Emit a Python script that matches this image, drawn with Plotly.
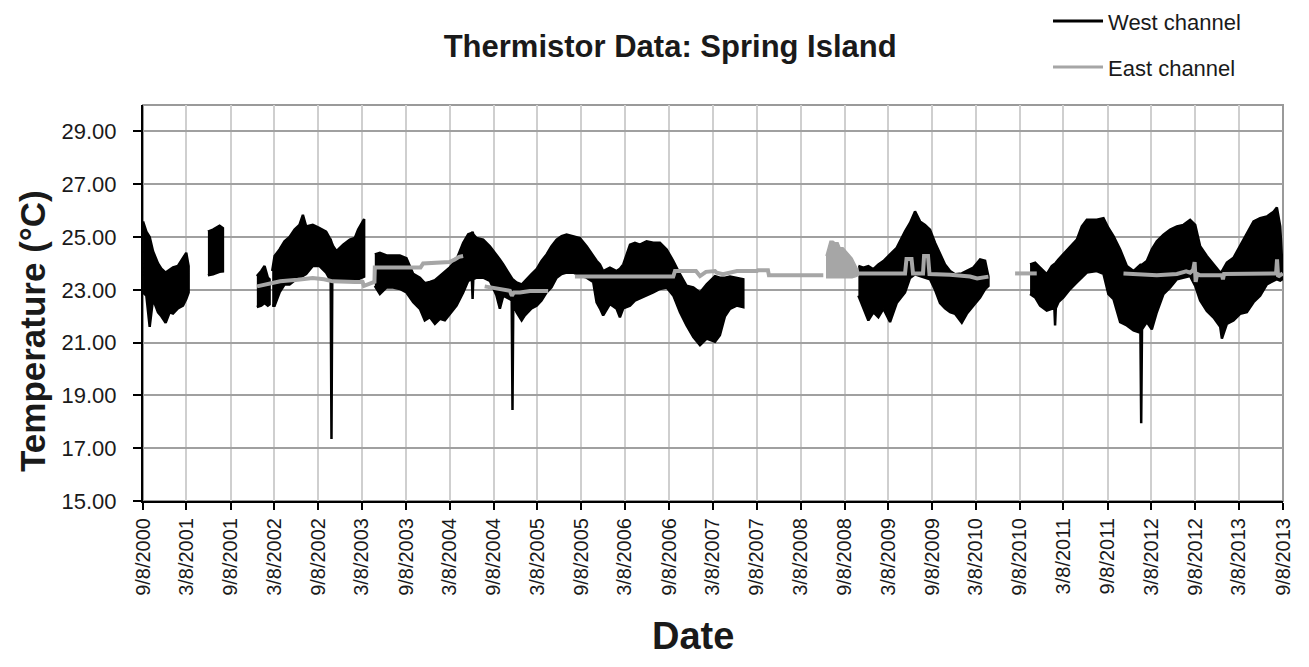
import plotly.graph_objects as go
from datetime import date

# ---------------- data ----------------
tick_labels = ["9/8/2000", "3/8/2001", "9/8/2001", "3/8/2002", "9/8/2002", "3/8/2003",
               "9/8/2003", "3/8/2004", "9/8/2004", "3/8/2005", "9/8/2005", "3/8/2006",
               "9/8/2006", "3/8/2007", "9/8/2007", "3/8/2008", "9/8/2008", "3/8/2009",
               "9/8/2009", "3/8/2010", "9/8/2010", "3/8/2011", "9/8/2011", "3/8/2012",
               "9/8/2012", "3/8/2013", "9/8/2013"]

# West channel: daily range envelope (decimal year, upper, lower) per logging segment
west_t1 = [2000.686, 2000.724, 2000.762, 2000.800, 2000.857, 2000.895, 2000.944, 2000.990,
           2001.028, 2001.084, 2001.142, 2001.179, 2001.206]
west_hi1 = [25.59, 25.2, 25.0, 24.46, 24.0, 23.8, 23.65, 23.78, 23.85, 23.9, 24.2, 24.4, 23.9]
west_lo1 = [22.9, 22.78, 21.6, 22.65, 22.15, 22.0, 21.75, 22.15, 22.1, 22.3, 22.4, 22.65, 22.9]

west_t2 = [2001.426, 2001.484, 2001.559, 2001.597]
west_hi2 = [25.2, 25.28, 25.43, 25.34]
west_lo2 = [23.55, 23.59, 23.68, 23.7]

west_t3 = [2001.984, 2002.034, 2002.072, 2002.109, 2002.129]
west_hi3 = [23.52, 23.71, 23.9, 23.46, 23.4]
west_lo3 = [22.35, 22.4, 22.5, 22.4, 22.45]

west_t4 = [2002.159, 2002.186, 2002.243, 2002.299, 2002.357, 2002.414, 2002.470, 2002.509,
           2002.546, 2002.622, 2002.699, 2002.774, 2002.816, 2002.826, 2002.835, 2002.844,
           2002.854, 2002.892, 2002.968, 2003.044, 2003.101, 2003.139, 2003.178, 2003.207]
west_hi4 = [23.71, 24.28, 24.53, 24.84, 25.0, 25.28, 25.46, 25.84, 25.4, 25.46, 25.34, 25.2,
            24.95, 24.9, 24.8, 24.7, 24.65, 24.46, 24.71, 24.9, 24.96, 25.28, 25.53, 25.68]
west_lo4 = [22.4, 22.4, 22.9, 23.2, 23.2, 23.35, 23.45, 23.52, 23.6, 23.9, 23.9, 23.65,
            23.4, 23.4, 17.35, 23.4, 23.4, 23.4, 23.4, 23.4, 23.4, 23.4, 23.45, 23.5]

west_t5 = [2003.329, 2003.387, 2003.463, 2003.539, 2003.614, 2003.690, 2003.767, 2003.843,
           2003.899, 2003.957, 2004.014, 2004.071, 2004.128, 2004.184, 2004.261, 2004.337,
           2004.394, 2004.436, 2004.444, 2004.452, 2004.489, 2004.565, 2004.641, 2004.717,
           2004.755, 2004.794, 2004.869, 2004.890, 2004.899, 2004.908, 2004.945, 2005.003,
           2005.040, 2005.116, 2005.174, 2005.230, 2005.288, 2005.344, 2005.402, 2005.459,
           2005.516, 2005.592, 2005.668, 2005.744, 2005.819, 2005.858, 2005.896, 2005.933,
           2006.010, 2006.086, 2006.124, 2006.162, 2006.239, 2006.295, 2006.352, 2006.428,
           2006.504, 2006.580, 2006.657, 2006.733, 2006.809, 2006.884, 2006.961, 2007.037,
           2007.113, 2007.208, 2007.264, 2007.322, 2007.379, 2007.455, 2007.531]
west_hi5 = [24.34, 24.4, 24.3, 24.3, 24.3, 24.2, 23.6, 23.46, 23.25, 23.3, 23.36, 23.52,
            23.7, 23.85, 24.15, 24.78, 25.1, 25.15, 25.2, 25.1, 24.96, 24.9, 24.65, 24.34,
            24.15, 23.96, 23.52, 23.42, 23.4, 23.38, 23.28, 23.2, 23.34, 23.59, 23.78, 24.09,
            24.34, 24.65, 24.9, 25.03, 25.09, 25.03, 24.96, 24.65, 24.28, 24.1, 23.96, 23.71,
            23.84, 23.71, 23.8, 23.96, 24.71, 24.78, 24.71, 24.84, 24.78, 24.78, 24.53, 24.09,
            23.59, 23.15, 23.09, 22.9, 23.21, 23.52, 23.46, 23.46, 23.5, 23.46, 23.4]
west_lo5 = [23.15, 22.84, 23.09, 23.09, 23.03, 22.9, 22.53, 22.28, 21.84, 21.96, 21.71, 21.9,
            21.84, 22.09, 22.4, 22.9, 23.34, 23.4, 22.65, 23.4, 23.46, 23.46, 23.34, 22.78,
            22.28, 22.78, 22.65, 22.6, 18.45, 22.5, 22.15, 21.84, 22.03, 22.3, 22.4, 22.6,
            22.9, 23.1, 23.46, 23.6, 23.65, 23.65, 23.55, 23.46, 23.3, 22.53, 22.3, 22.03,
            22.46, 22.28, 21.96, 22.3, 22.4, 22.59, 22.65, 22.78, 22.9, 23.03, 23.09, 22.78,
            22.15, 21.65, 21.21, 20.9, 21.15, 21.03, 21.28, 22.0, 22.28, 22.4, 22.34]

west_t6 = [2008.843, 2008.900, 2008.957, 2009.014, 2009.071, 2009.128, 2009.204, 2009.280,
           2009.375, 2009.432, 2009.489, 2009.546, 2009.603, 2009.660, 2009.717, 2009.774,
           2009.831, 2009.889, 2009.945, 2010.022, 2010.079, 2010.154, 2010.231, 2010.288,
           2010.326]
west_hi6 = [23.9, 23.84, 23.9, 23.78, 23.96, 24.09, 24.34, 24.59, 25.21, 25.53, 25.97, 25.59,
            25.46, 25.28, 24.78, 24.4, 23.96, 23.71, 23.59, 23.62, 23.71, 23.84, 24.15, 24.1,
            23.5]
west_lo6 = [22.78, 22.28, 21.84, 22.15, 21.96, 22.28, 21.78, 22.5, 22.9, 23.45, 23.59, 23.52,
            23.45, 23.4, 23.0, 22.5, 22.3, 22.15, 22.09, 21.75, 22.09, 22.4, 22.71, 23.03,
            23.15]

west_t7 = [2010.801, 2010.859, 2010.915, 2010.991, 2011.048, 2011.078, 2011.086, 2011.094,
           2011.124, 2011.181, 2011.258, 2011.334, 2011.391, 2011.448, 2011.562, 2011.638,
           2011.694, 2011.752, 2011.828, 2011.904, 2011.980, 2012.037, 2012.059, 2012.068,
           2012.077, 2012.132, 2012.189, 2012.246, 2012.322, 2012.399, 2012.475, 2012.550,
           2012.626, 2012.684, 2012.740, 2012.816, 2012.893, 2012.969, 2012.988, 2013.045,
           2013.120, 2013.196, 2013.273, 2013.349, 2013.424, 2013.501, 2013.577, 2013.615,
           2013.653, 2013.676]
west_hi7 = [23.96, 24.03, 23.84, 23.59, 23.9, 23.98, 24.0, 24.02, 24.15, 24.35, 24.65, 24.9,
            25.4, 25.65, 25.65, 25.71, 25.34, 25.03, 24.53, 23.9, 23.71, 23.9, 23.95, 23.95,
            23.95, 24.09, 24.53, 24.84, 25.09, 25.28, 25.4, 25.46, 25.65, 25.46, 24.65, 24.28,
            23.96, 23.65, 23.7, 24.03, 24.21, 24.65, 25.15, 25.59, 25.71, 25.78, 25.96, 26.12,
            25.4, 24.0]
west_lo7 = [22.84, 22.71, 22.4, 22.21, 22.28, 22.3, 21.65, 22.3, 22.53, 22.71, 23.03, 23.28,
            23.45, 23.65, 23.71, 23.6, 22.84, 22.65, 21.78, 21.65, 21.46, 21.4, 21.45, 17.95,
            21.5, 21.78, 21.5, 22.15, 22.84, 23.09, 23.4, 23.46, 23.52, 23.15, 22.6, 22.2,
            21.95, 21.6, 21.15, 21.71, 21.84, 22.09, 22.15, 22.53, 22.78, 23.21, 23.34, 23.4,
            23.35, 23.4]

# East channel: logged line segments (decimal year, temperature)
east_t1 = [2001.986, 2002.10, 2002.25, 2002.45, 2002.62, 2002.75, 2002.85, 2003.10, 2003.19,
           2003.205, 2003.24, 2003.325, 2003.329, 2003.85, 2003.88, 2004.18, 2004.24, 2004.29,
           2004.336]
east_v1 = [23.13, 23.22, 23.32, 23.38, 23.45, 23.4, 23.32, 23.3, 23.3, 23.15, 23.2, 23.3,
           23.84, 23.84, 24.0, 24.05, 24.15, 24.25, 24.28]
east_t2 = [2004.582, 2004.718, 2004.869, 2004.892, 2004.915, 2004.984, 2005.098, 2005.306]
east_v2 = [23.13, 23.05, 22.96, 22.78, 22.9, 22.9, 22.95, 22.95]
east_t3 = [2005.611, 2006.732, 2006.752, 2006.991, 2007.037, 2007.105, 2007.208, 2007.227,
           2007.299, 2007.367, 2007.459, 2007.687, 2007.698, 2007.812, 2007.823, 2008.063,
           2008.443]
east_v3 = [23.5, 23.5, 23.71, 23.71, 23.52, 23.68, 23.71, 23.65, 23.59, 23.65, 23.71, 23.71,
           23.74, 23.74, 23.55, 23.55, 23.55]
east_t4 = [2008.843, 2009.375, 2009.392, 2009.449, 2009.466, 2009.580, 2009.592, 2009.637,
           2009.654, 2009.889, 2010.117, 2010.197, 2010.326]
east_v4 = [23.62, 23.62, 24.17, 24.17, 23.62, 23.62, 24.28, 24.28, 23.6, 23.57, 23.5, 23.43,
           23.5]
east_t5 = [2010.630, 2010.877]
east_v5 = [23.62, 23.62]
east_t6 = [2011.866, 2012.056, 2012.246, 2012.475, 2012.581, 2012.626, 2012.660, 2012.677,
           2012.689, 2012.706, 2012.740, 2012.990, 2013.000, 2013.013, 2013.606, 2013.617,
           2013.629, 2013.682]
east_v6 = [23.62, 23.6, 23.55, 23.6, 23.7, 23.65, 23.75, 24.05, 23.3, 23.6, 23.55, 23.55,
           23.4, 23.6, 23.62, 24.15, 23.5, 23.62]

# East channel: noisy burst in 2008 (daily range envelope)
east_burst_t = [2008.474, 2008.520, 2008.554, 2008.577, 2008.611, 2008.634, 2008.668,
                2008.714, 2008.748, 2008.771, 2008.816, 2008.843]
east_burst_hi = [24.28, 24.84, 24.84, 24.78, 24.78, 24.59, 24.59, 24.4, 24.3, 24.2, 23.9, 23.71]
east_burst_lo = [23.46, 23.46, 23.46, 23.46, 23.46, 23.46, 23.46, 23.46, 23.46, 23.46, 23.5,
                 23.55]


def decimal_year(label):
    m, d, y = map(int, label.split("/"))
    dt = date(y, m, d)
    start, end = date(y, 1, 1), date(y + 1, 1, 1)
    return y + (dt - start).days / (end - start).days


tick_vals = [decimal_year(s) for s in tick_labels]

west_segments = [(west_t1, west_hi1, west_lo1), (west_t2, west_hi2, west_lo2),
                 (west_t3, west_hi3, west_lo3), (west_t4, west_hi4, west_lo4),
                 (west_t5, west_hi5, west_lo5), (west_t6, west_hi6, west_lo6),
                 (west_t7, west_hi7, west_lo7)]
east_segments = [(east_t1, east_v1), (east_t2, east_v2), (east_t3, east_v3),
                 (east_t4, east_v4), (east_t5, east_v5), (east_t6, east_v6)]

BLACK = "#000000"
GRAY = "#a6a6a6"
FONT = "Liberation Sans, Arial, sans-serif"
TXT = "#1a1a1a"

fig = go.Figure()

# West band polygons (one closed shape per segment)
wx, wy = [], []
for t, hi, lo in west_segments:
    wx += list(t) + list(t)[::-1] + [None]
    wy += list(hi) + list(lo)[::-1] + [None]
fig.add_trace(go.Scatter(x=wx, y=wy, mode="lines", fill="toself", fillcolor=BLACK,
                         line=dict(color=BLACK, width=2.5), showlegend=False,
                         hoverinfo="skip", name="West channel"))

# East burst polygon
fig.add_trace(go.Scatter(x=list(east_burst_t) + list(east_burst_t)[::-1],
                         y=list(east_burst_hi) + list(east_burst_lo)[::-1],
                         mode="lines", fill="toself", fillcolor=GRAY,
                         line=dict(color=GRAY, width=1.5), showlegend=False,
                         hoverinfo="skip", name="East channel"))

# East line segments
ex, ey = [], []
for t, v in east_segments:
    ex += list(t) + [None]
    ey += list(v) + [None]
fig.add_trace(go.Scatter(x=ex, y=ey, mode="lines", line=dict(color=GRAY, width=4),
                         connectgaps=False, showlegend=False, name="East channel"))

# legend entries
fig.add_trace(go.Scatter(x=[None], y=[None], mode="lines", line=dict(color=BLACK, width=3),
                         name="West channel", legend="legend"))
fig.add_trace(go.Scatter(x=[None], y=[None], mode="lines", line=dict(color=GRAY, width=3),
                         name="East channel", legend="legend2"))

legend_common = dict(font=dict(family=FONT, size=22, color=TXT), bgcolor="rgba(0,0,0,0)",
                     xref="container", yref="container",
                     xanchor="left", yanchor="middle", itemwidth=50, x=0.7994)

fig.update_layout(
    width=1301, height=659,
    margin=dict(l=135, r=26, t=97, b=166, autoexpand=False),
    paper_bgcolor="white", plot_bgcolor="white",
    font=dict(family=FONT, color=TXT),
    title=dict(text="<b>Thermistor Data: Spring Island</b>", x=0.509, xref="container",
               xanchor="center", y=0.942, yref="container", yanchor="middle",
               font=dict(family=FONT, size=31, color=TXT)),
    legend=dict(**legend_common, y=0.980),
    legend2=dict(**legend_common, y=0.910),
    xaxis=dict(range=[tick_vals[0], tick_vals[-1]], tickmode="array", tickvals=tick_vals,
               ticktext=tick_labels, tickangle=-90, tickfont=dict(size=20, color=TXT),
               showgrid=True, gridcolor="#cfcfcf", gridwidth=1.5,
               showline=True, linecolor=BLACK, linewidth=2,
               ticks="outside", ticklen=7, tickwidth=1.5, tickcolor=BLACK,
               zeroline=False),
    yaxis=dict(range=[15, 30], tick0=15, dtick=2, tickformat=".2f",
               tickfont=dict(size=22, color=TXT),
               showgrid=True, gridcolor="#a0a0a0", gridwidth=1.5,
               showline=True, linecolor=BLACK, linewidth=2,
               ticks="outside", ticklen=8, tickwidth=1.5, tickcolor=BLACK,
               ticklabelstandoff=12, zeroline=False),
    annotations=[
        dict(text="<b>Date</b>", xref="paper", yref="paper", x=0.4825, y=-0.3409,
             xanchor="center", yanchor="middle", showarrow=False,
             font=dict(family=FONT, size=38, color=TXT)),
        dict(text="<b>Temperature (°C)</b>", xref="paper", yref="paper", x=-0.0965,
             y=0.4293, xanchor="center", yanchor="middle", textangle=-90, showarrow=False,
             font=dict(family=FONT, size=35, color=TXT)),
    ],
    shapes=[dict(type="rect", xref="paper", yref="paper", x0=0, x1=1, y0=0, y1=1,
                 line=dict(color="#9a9a9a", width=2), layer="below")],
)

fig.write_html("out.html")
